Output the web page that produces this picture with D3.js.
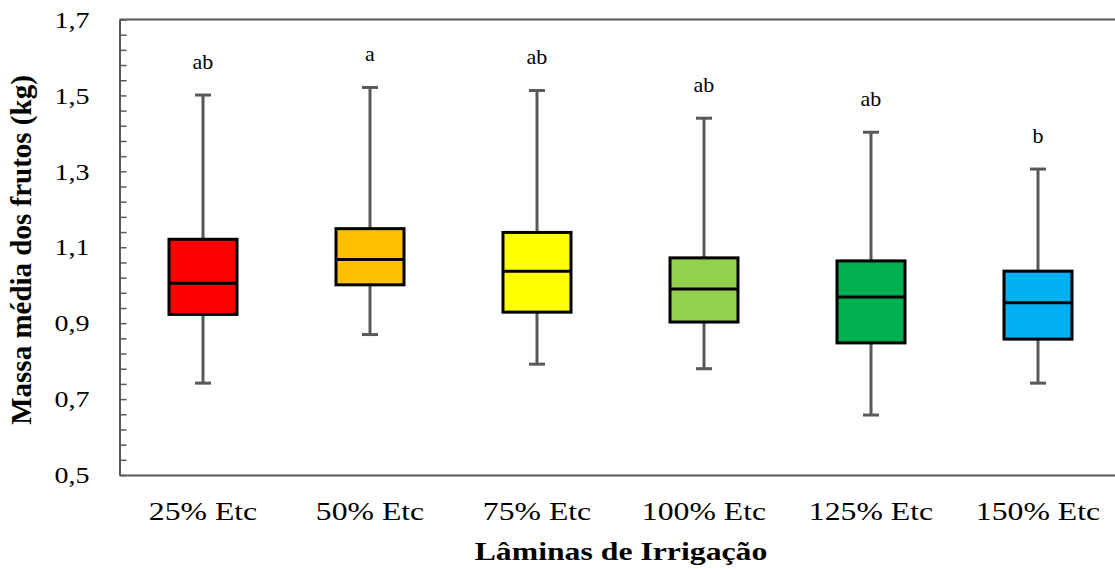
<!DOCTYPE html>
<html>
<head>
<meta charset="utf-8">
<script src="https://cdn.jsdelivr.net/npm/d3@7"></script>
<style>
  body { margin: 0; background: #fff; }
</style>
</head>
<body>
<div id="chart"></div>
<script>
// data
const categories = ["25% Etc", "50% Etc", "75% Etc", "100% Etc", "125% Etc", "150% Etc"];
const whiskerLow  = [0.742, 0.870, 0.792, 0.780, 0.658, 0.742];
const q1          = [0.923, 1.001, 0.929, 0.903, 0.848, 0.858];
const median      = [1.005, 1.068, 1.037, 0.990, 0.969, 0.954];
const q3          = [1.121, 1.149, 1.139, 1.072, 1.064, 1.037];
const whiskerHigh = [1.501, 1.521, 1.513, 1.440, 1.403, 1.306];
const letters     = ["ab", "a", "ab", "ab", "ab", "b"];
const colors      = ["#FF0000", "#FFC000", "#FFFF00", "#92D050", "#00B050", "#00B0F0"];

const majorTicks = [0.5, 0.7, 0.9, 1.1, 1.3, 1.5, 1.7];

const width = 1115, height = 569;
const plotLeft = 119.5, plotTop = 19.5, plotBottom = 475;
const serif = "'Liberation Serif', 'Times New Roman', Times, serif";
// the original picture is a bit stretched sideways, text included
const stretchY = 1.17, stretchX = 1.27;

const svg = d3.select("#chart").append("svg")
    .attr("width", width)
    .attr("height", height)
    .attr("font-family", serif);

const x = d3.scaleBand()
    .domain(categories)
    .range([plotLeft, plotLeft + 6 * 167])
    .padding(0);

const y = d3.scaleLinear()
    .domain([0.5, 1.7])
    .range([plotBottom, plotTop]);

const boxW = 68;
const fmt = d => d3.format(".1f")(d).replace(".", ",");

const rows = categories.map((c, i) => ({
    cat: c, lo: whiskerLow[i], q1: q1[i], med: median[i], q3: q3[i], hi: whiskerHigh[i],
    letter: letters[i], color: colors[i]
}));

// y axis, ticks pointing into the plot
const minor = d3.range(0, 31).map(i => +(0.5 + i * 0.04).toFixed(2));
const yAxis = svg.append("g")
    .attr("transform", `translate(${plotLeft},0)`)
    .call(d3.axisLeft(y)
        .tickValues(minor)
        .tickSizeInner(-7)
        .tickSizeOuter(0)
        .tickPadding(30)
        .tickFormat(d => majorTicks.some(m => Math.abs(m - d) < 1e-6) ? fmt(d) : ""));
yAxis.attr("font-family", serif);
yAxis.select(".domain").attr("stroke", "#595959").attr("stroke-width", 2);
yAxis.selectAll(".tick line").attr("stroke", "#595959").attr("stroke-width", 1.5);
yAxis.selectAll(".tick text")
    .attr("font-size", 24)
    .attr("fill", "#000")
    .attr("x", -30 / stretchY)
    .attr("transform", `scale(${stretchY},1)`);

// x axis
const xAxis = svg.append("g")
    .attr("transform", `translate(0,${plotBottom})`)
    .call(d3.axisBottom(x).tickSize(0).tickPadding(27));
xAxis.attr("font-family", serif);
xAxis.select(".domain").attr("stroke", "#595959").attr("stroke-width", 2);
xAxis.selectAll(".tick text")
    .attr("font-size", 25)
    .attr("fill", "#000")
    .attr("transform", `scale(${stretchX},1)`);

// top border of the plot area
svg.append("line")
    .attr("x1", plotLeft).attr("x2", plotLeft + 6 * 167)
    .attr("y1", plotTop).attr("y2", plotTop)
    .attr("stroke", "#595959").attr("stroke-width", 2);

const g = svg.append("g");
const cx = d => x(d.cat) + x.bandwidth() / 2;

// whiskers
g.selectAll(".whisker").data(rows).join("line")
    .attr("x1", cx).attr("x2", cx)
    .attr("y1", d => y(d.lo)).attr("y2", d => y(d.hi))
    .attr("stroke", "#595959").attr("stroke-width", 3);

g.selectAll(".capHi").data(rows).join("line")
    .attr("x1", d => cx(d) - 8).attr("x2", d => cx(d) + 8)
    .attr("y1", d => y(d.hi)).attr("y2", d => y(d.hi))
    .attr("stroke", "#595959").attr("stroke-width", 3);

g.selectAll(".capLo").data(rows).join("line")
    .attr("x1", d => cx(d) - 8).attr("x2", d => cx(d) + 8)
    .attr("y1", d => y(d.lo)).attr("y2", d => y(d.lo))
    .attr("stroke", "#595959").attr("stroke-width", 3);

// boxes
g.selectAll(".box").data(rows).join("rect")
    .attr("x", d => cx(d) - boxW / 2)
    .attr("y", d => y(d.q3))
    .attr("width", boxW)
    .attr("height", d => y(d.q1) - y(d.q3))
    .attr("fill", d => d.color)
    .attr("stroke", "#000")
    .attr("stroke-width", 3);

g.selectAll(".med").data(rows).join("line")
    .attr("x1", d => cx(d) - boxW / 2).attr("x2", d => cx(d) + boxW / 2)
    .attr("y1", d => y(d.med)).attr("y2", d => y(d.med))
    .attr("stroke", "#000").attr("stroke-width", 3);

// significance letters
g.selectAll(".letter").data(rows).join("text")
    .attr("x", cx)
    .attr("y", d => y(d.hi) - 26)
    .attr("text-anchor", "middle")
    .attr("font-size", 22)
    .text(d => d.letter);

// axis titles
svg.append("text")
    .attr("transform", `translate(621,560) scale(${stretchX},1)`)
    .attr("text-anchor", "middle")
    .attr("font-size", 25)
    .attr("font-weight", "bold")
    .text("Lâminas de Irrigação");

svg.append("text")
    .attr("transform", "translate(31,250) rotate(-90)")
    .attr("text-anchor", "middle")
    .attr("font-size", 29)
    .attr("font-weight", "bold")
    .text("Massa média dos frutos (kg)");
</script>
</body>
</html>
